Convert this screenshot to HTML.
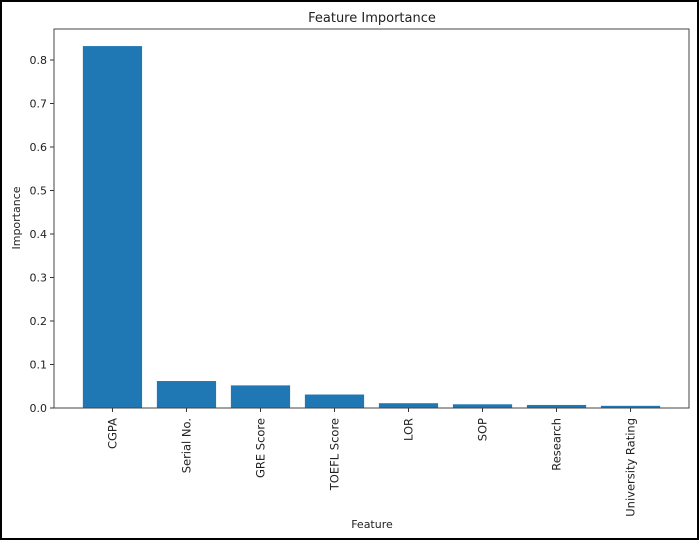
<!DOCTYPE html>
<html><head><meta charset="utf-8"><style>
html,body{margin:0;padding:0;background:#fff}
svg{display:block;font-family:"DejaVu Sans","Liberation Sans",sans-serif}
</style></head><body>
<svg id="chart" width="700" height="541" xmlns="http://www.w3.org/2000/svg">
<rect x="1" y="1" width="697" height="538" fill="#fff" stroke="#000" stroke-width="2"/>
<text x="372" y="22" text-anchor="middle" font-size="13" fill="#222">Feature Importance</text>
<g id="bars"></g>
<g id="axes"></g>
<text x="372" y="528" text-anchor="middle" font-size="11" fill="#222">Feature</text>
<text transform="translate(20,218) rotate(-90)" text-anchor="middle" font-size="11" fill="#222">Importance</text>
</svg>
<script>
const categories=["CGPA","Serial No.","GRE Score","TOEFL Score","LOR","SOP","Research","University Rating"];
const values=[0.832,0.062,0.052,0.031,0.011,0.0085,0.007,0.005];
const yTicks=[0,0.1,0.2,0.3,0.4,0.5,0.6,0.7,0.8];
const yTickLabels=["0.0","0.1","0.2","0.3","0.4","0.5","0.6","0.7","0.8"];
const NS="http://www.w3.org/2000/svg";
const L=54,R=689,T=29,B=408;
const n=categories.length;
const xmin=-0.4-0.05*(n-0.2),xmax=n-1+0.4+0.05*(n-0.2);
function x(v){return L+(v-xmin)/(xmax-xmin)*(R-L);}
function y(v){return B-v*435;}
function mk(t,a,p){const e=document.createElementNS(NS,t);for(const k in a)e.setAttribute(k,a[k]);p.appendChild(e);return e;}
const bars=document.getElementById('bars'),axes=document.getElementById('axes');
categories.forEach((c,i)=>{
  const r=mk('rect',{x:x(i-0.4),y:y(values[i]),width:x(i+0.4)-x(i-0.4),height:B-y(values[i]),fill:'#1f77b4'},bars);
  
  
  const tk=mk('line',{x1:x(i),x2:x(i),y1:B,y2:B+4,stroke:'#333'},axes);
  
  
  const t=mk('text',{transform:`translate(${x(i)+4},${B+10}) rotate(-90)`,'text-anchor':'end','font-size':'11.5',fill:'#222'},axes);
  t.textContent=c;
  
  
});
yTicks.forEach((v,i)=>{
  const tk=mk('line',{x1:L-4,x2:L,y1:y(v),y2:y(v),stroke:'#333'},axes);
  
  
  const t=mk('text',{x:L-7,y:y(v)+4,'text-anchor':'end','font-size':'11',fill:'#222'},axes);
  t.textContent=yTickLabels[i];
  
  
});
const fr=mk('rect',{x:L,y:T,width:R-L,height:B-T,fill:'none',stroke:'#444','stroke-width':1},axes);


</script>
</body></html>
